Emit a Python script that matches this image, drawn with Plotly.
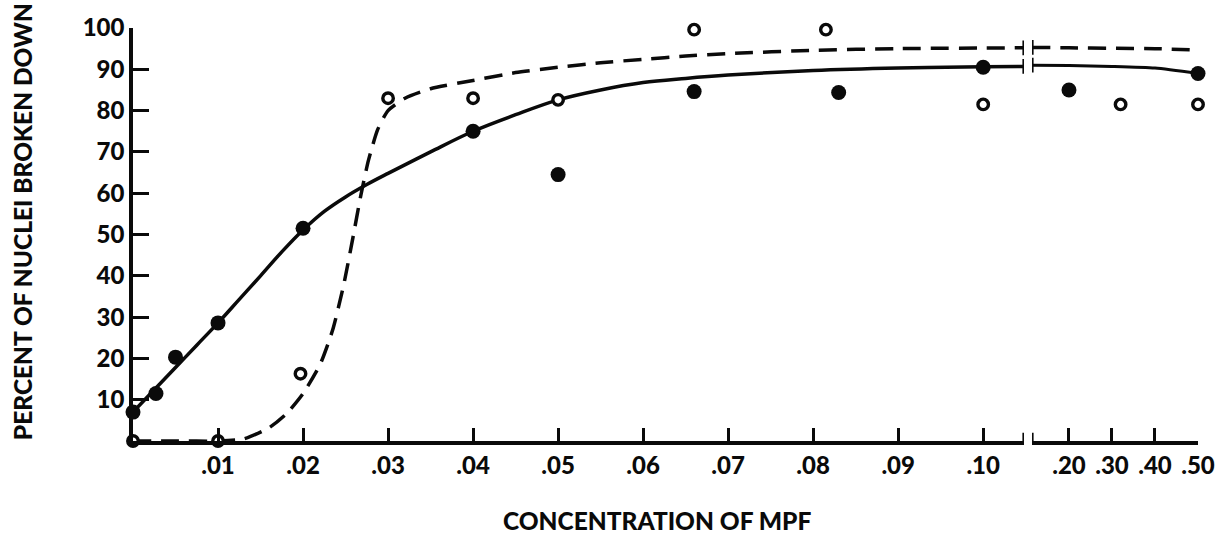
import plotly.graph_objects as go

# ---- measured data: filled circles (solid curve) ----
filled_x = [0, 0.0027, 0.005, 0.01, 0.02, 0.04, 0.05, 0.066, 0.083, 0.10]
filled_y = [7, 11.5, 20.3, 28.6, 51.5, 75, 64.5, 84.6, 84.4, 90.5]
filled_hi_x = [0.20, 0.50]
filled_hi_y = [85, 89]

# ---- measured data: open circles (dashed curve) ----
open_x = [0, 0.01, 0.0197, 0.030, 0.040, 0.050, 0.066, 0.0815, 0.10]
open_y = [0, 0, 16.3, 83, 83, 82.6, 99.6, 99.6, 81.5]
open_hi_x = [0.32, 0.50]
open_hi_y = [81.5, 81.5]

# ---- fitted curves ----
solid_x = [0, 0.0025, 0.005, 0.0075, 0.01, 0.0125, 0.015, 0.0175, 0.02, 0.0225,
           0.025, 0.0275, 0.03, 0.035, 0.04, 0.045, 0.05, 0.055, 0.06, 0.065,
           0.07, 0.08, 0.09, 0.10, 0.1048]
solid_y = [7, 12.4, 17.8, 23.2, 28.6, 34.3, 40, 45.8, 51.1, 55.6,
           59.1, 62.1, 64.8, 70, 75, 79, 82.6, 85, 86.8, 87.8,
           88.6, 89.7, 90.3, 90.6, 90.7]
solid_hi_x = [0.114, 0.20, 0.30, 0.40, 0.50]
solid_hi_y = [91.0, 90.9, 90.7, 90.3, 89]

dash_x = [0, 0.005, 0.01, 0.013, 0.016, 0.018, 0.020, 0.022, 0.0235, 0.0248,
          0.0258, 0.0268, 0.0277, 0.0288, 0.030, 0.032, 0.035, 0.040, 0.045,
          0.050, 0.055, 0.060, 0.065, 0.070, 0.080, 0.090, 0.1048]
dash_y = [0, 0, 0, 0.5, 3.2, 6.5, 11.5, 18.5, 27, 38,
          48.5, 59.5, 68, 75.5, 80, 83, 85.3, 87.3, 89.2,
          90.5, 91.6, 92.4, 93.2, 93.8, 94.6, 95.0, 95.2]
dash_hi_x = [0.114, 0.20, 0.30, 0.40, 0.49]
dash_hi_y = [95.3, 95.2, 95.1, 95.0, 94.7]

# ---- axis ticks ----
y_ticks = [10, 20, 30, 40, 50, 60, 70, 80, 90, 100]
x_ticks = [0.01, 0.02, 0.03, 0.04, 0.05, 0.06, 0.07, 0.08, 0.09, 0.10]
x_tick_text = [".01", ".02", ".03", ".04", ".05", ".06", ".07", ".08", ".09", ".10"]
x2_ticks = [0.20, 0.30, 0.40, 0.50]
x2_tick_text = [".20", ".30", ".40", ".50"]

LEFT_END = 0.1048     # end of the linear low-concentration segment
RIGHT_START = 0.114   # start of the compressed high-concentration segment

INK = "#0a0a0a"
FONT = dict(family="Lato, 'Open Sans', sans-serif", size=24, color=INK, weight=900)
TITLE_FONT = dict(family="Lato, 'Open Sans', sans-serif", size=24.5, color=INK, weight=900)
LW = 3.5
DASH = "18px,10px"

fig = go.Figure()

# curves
fig.add_trace(go.Scatter(x=dash_x, y=dash_y, mode="lines", xaxis="x", yaxis="y",
                         line=dict(color=INK, width=LW, dash=DASH, shape="spline", smoothing=0.6),
                         hoverinfo="skip", showlegend=False))
fig.add_trace(go.Scatter(x=dash_hi_x, y=dash_hi_y, mode="lines", xaxis="x2", yaxis="y",
                         line=dict(color=INK, width=LW, dash=DASH, shape="spline", smoothing=0.6),
                         hoverinfo="skip", showlegend=False))
fig.add_trace(go.Scatter(x=solid_x, y=solid_y, mode="lines", xaxis="x", yaxis="y",
                         line=dict(color=INK, width=LW, shape="spline", smoothing=1.0),
                         hoverinfo="skip", showlegend=False))
fig.add_trace(go.Scatter(x=solid_hi_x, y=solid_hi_y, mode="lines", xaxis="x2", yaxis="y",
                         line=dict(color=INK, width=3, shape="spline", smoothing=0.6),
                         hoverinfo="skip", showlegend=False))

# points
open_marker = dict(symbol="circle", size=10.5, color="white", line=dict(color=INK, width=3.4))
filled_marker = dict(symbol="circle", size=15, color=INK, line=dict(width=0))
fig.add_trace(go.Scatter(x=open_x, y=open_y, mode="markers", xaxis="x", yaxis="y",
                         marker=open_marker, cliponaxis=False, showlegend=False))
fig.add_trace(go.Scatter(x=open_hi_x, y=open_hi_y, mode="markers", xaxis="x2", yaxis="y",
                         marker=open_marker, cliponaxis=False, showlegend=False))
fig.add_trace(go.Scatter(x=filled_x, y=filled_y, mode="markers", xaxis="x", yaxis="y",
                         marker=filled_marker, cliponaxis=False, showlegend=False))
fig.add_trace(go.Scatter(x=filled_hi_x, y=filled_hi_y, mode="markers", xaxis="x2", yaxis="y",
                         marker=filled_marker, cliponaxis=False, showlegend=False))

# axis-break bars on the axis and across both curves
shapes = []
breaks = [(0.0, 2.0), (solid_y[-1], 1.8), (dash_y[-1], 1.8)]
for level, half in breaks:
    shapes.append(dict(type="line", xref="x", yref="y", x0=LEFT_END, x1=LEFT_END,
                       y0=level - half, y1=level + half, line=dict(color=INK, width=3.2)))
breaks_hi = [(0.0, 2.0), (solid_hi_y[0], 1.8), (dash_hi_y[0], 1.8)]
for level, half in breaks_hi:
    shapes.append(dict(type="line", xref="x2", yref="y", x0=RIGHT_START, x1=RIGHT_START,
                       y0=level - half, y1=level + half, line=dict(color=INK, width=3.2)))

plot_w = 1229 - 133 - 31
left_frac = (1024 - 133) / plot_w
right_frac = (1032 - 133) / plot_w

axis_common = dict(showline=True, linecolor=INK, linewidth=LW, ticks="inside",
                   tickcolor=INK, tickwidth=3, ticklen=13, showgrid=False,
                   zeroline=False, tickfont=FONT, fixedrange=True)

fig.update_layout(
    width=1229, height=541,
    margin=dict(l=133, r=31, t=22, b=100),
    paper_bgcolor="white", plot_bgcolor="white",
    xaxis=dict(domain=[0, left_frac], range=[0, LEFT_END], anchor="y",
               tickvals=x_ticks, ticktext=x_tick_text, **axis_common),
    xaxis2=dict(domain=[right_frac, 1], range=[RIGHT_START, 0.5], anchor="y",
                tickvals=x2_ticks, ticktext=x2_tick_text, **axis_common),
    yaxis=dict(range=[0, 100], anchor="x", tickvals=y_ticks,
               ticktext=[str(v) for v in y_ticks],
               **{**axis_common, "ticklen": 16}),
    shapes=shapes,
    annotations=[
        dict(text="PERCENT OF NUCLEI BROKEN DOWN", xref="paper", yref="paper",
             x=(22 - 133) / plot_w, y=(441 - 219) / 419, textangle=-90,
             showarrow=False, font=TITLE_FONT, xanchor="center", yanchor="middle"),
        dict(text="CONCENTRATION OF MPF", xref="paper", yref="paper",
             x=(657 - 133) / plot_w, y=(441 - 522) / 419,
             showarrow=False, font=TITLE_FONT, xanchor="center", yanchor="middle"),
    ],
    showlegend=False,
)

fig.write_html("out.html")
